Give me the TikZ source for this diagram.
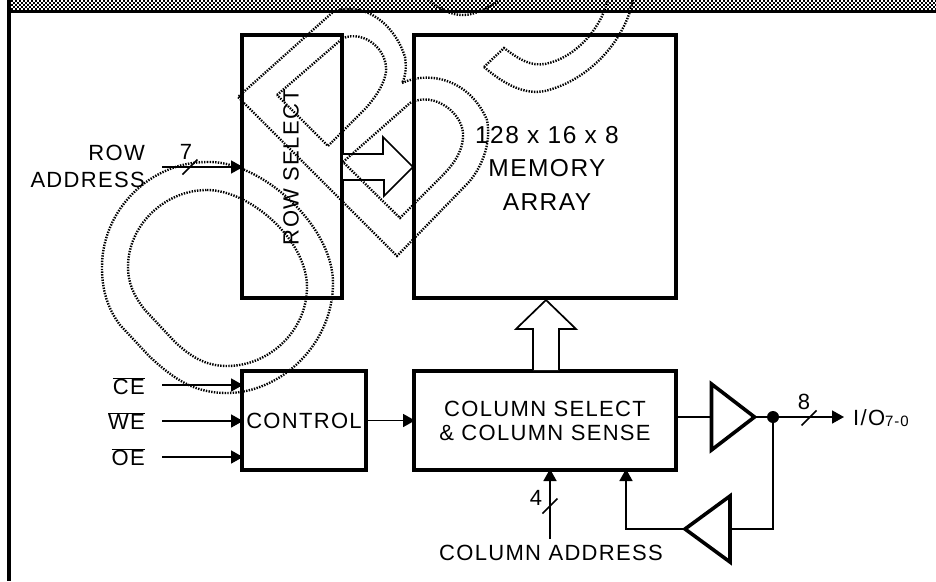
\documentclass[tikz,border=0pt]{standalone}
\usepackage{fontspec}
\usepackage{tikz}
\usetikzlibrary{arrows.meta,shapes.geometric}
\setmainfont[LetterSpace=6]{Liberation Sans}
\newcommand{\slashmark}[2]{\draw[thick line] (#1-7.5,#2+7.5) -- (#1+7.5,#2-7.5);}
\newcommand{\bandrow}[2]{\draw[line width=2pt, dash pattern=on 2pt off 2pt, dash phase=#2] (11,#1) -- (936,#1);}
\tikzset{
  thick line/.style={line width=1.7pt},
  wire/.style={thick line, -{Triangle[length=12pt,width=13pt]}, shorten >=-1pt},
  block/.style={draw, line width=3.6pt, inner sep=0pt, outer sep=0pt, align=center},
  bigarrow/.style={draw, line width=1.7pt, fill=white, line join=miter},
  buffer/.style={draw, line width=3.6pt, isosceles triangle, isosceles triangle stretches, inner sep=0pt, outer sep=0pt, anchor=lower side},
  wmline/.style={draw=black, line width=2.4pt, dash pattern=on 1.4pt off 1.3pt},
  signal/.style={anchor=east, inner sep=0pt, font=\fontsize{22}{24}\selectfont},
  lbl/.style={inner sep=0pt, font=\fontsize{22}{24}\selectfont}
}
\begin{document}
\begin{tikzpicture}[x=1pt,y=-1pt]
  \useasboundingbox (0,0) rectangle (936,581);
  % frame and band along the top
  \bandrow{1}{0pt}
  \bandrow{3}{2pt}
  \bandrow{5}{0pt}
  \bandrow{7}{2pt}
  \bandrow{9}{0pt}
  \draw[line width=3.6pt] (9,0) -- (9,581);
  \draw[line width=3.6pt] (9,11.5) -- (936,11.5);
  % blocks
  \node[block, minimum width=100pt, minimum height=263pt] (rowsel) at (292,166.5) {};
  \node[block, minimum width=262pt, minimum height=263pt] (memory) at (545,166.5) {};
  \node[block, minimum width=124pt, minimum height=99pt, font=\fontsize{22}{24}\selectfont] (control) at (304,420.5) {CONTROL};
  \node[block, minimum width=262pt, minimum height=99pt, font=\fontsize{22}{25}\selectfont] (colsel) at (545,420.5) {COLUMN SELECT\\[-1pt]\& COLUMN SENSE};
  \node[lbl, rotate=90] (rowlbl) at (291,167) {ROW SELECT};
  \node[inner sep=0pt, font=\fontsize{24.5}{33.5}\selectfont, align=center] (memlbl) at (547,168) {128 x 16 x 8\\MEMORY\\ARRAY};
  % wide arrows
  \draw[bigarrow] (343,154) -- (383,154) -- (383,137) -- (413,167) -- (384,196) -- (384,180) -- (343,180);
  \draw[bigarrow] (533,370) -- (533,329) -- (516,329) -- (546,300) -- (576,329) -- (559,329) -- (559,370);
  % inputs on the left
  \node[signal] (rowtxt) at (145,153) {ROW};
  \node[signal] (addrtxt) at (145,180) {ADDRESS};
  \node[lbl] (seven) at (186,152) {7};
  \coordinate (rowin) at (162,167);
  \draw[wire] (rowin) -- (rowin -| rowsel.west);
  \slashmark{190}{167}
  \node[signal] (ce) at (145,386) {$\overline{\mbox{CE}}$};
  \node[signal] (we) at (145,421) {$\overline{\mbox{WE}}$};
  \node[signal] (oe) at (145,457) {$\overline{\mbox{OE}}$};
  \coordinate (cein) at (162,385);
  \coordinate (wein) at (162,421);
  \coordinate (oein) at (162,457);
  \draw[wire] (cein) -- (cein -| control.west);
  \draw[wire] (wein) -- (wein -| control.west);
  \draw[wire] (oein) -- (oein -| control.west);
  \draw[wire] (control.east) -- (colsel.west);
  % buffers and data lines
  \node[buffer, minimum width=66pt, minimum height=43pt] (bufout) at (711.5,417) {};
  \node[buffer, shape border rotate=180, minimum width=66pt, minimum height=45pt] (bufin) at (730,529) {};
  \node[circle, fill=black, inner sep=0pt, minimum size=12pt] (junction) at (773,417) {};
  \node[lbl, anchor=west] (iolbl) at (853,418) {I/O\fontsize{15}{15}\selectfont\raisebox{-1pt}{7-0}};
  \coordinate (ioend) at (843,417);
  \coordinate (colin) at (677,417);
  \draw[thick line] (colin) -- (bufout.west);
  \draw[thick line] (bufout.east) -- (junction);
  \draw[wire] (junction) -- (ioend);
  \slashmark{809}{418}
  \node[lbl] (eight) at (804,402) {8};
  \draw[thick line] (junction) |- (bufin.east);
  \coordinate (fbup) at (626,470);
  \draw[wire] (bufin.west) -| (fbup);
  \node[lbl] (addrlbl) at (551,553) {COLUMN ADDRESS};
  \coordinate (addrup) at (550,539);
  \coordinate (addrtop) at (550,470);
  \draw[wire] (addrup) -- (addrtop);
  \slashmark{550}{506}
  \node[lbl] (four) at (536,498) {4};
  % overlaid mark
  \draw[wmline] (402,83) .. controls (430,70) and (470,80) .. (487,120) .. controls (492,145) and (480,170) .. (468,183) -- (397,256) -- (238,97) -- (333,12) .. controls (365,0) and (395,25) .. (405,57) .. controls (407,68) and (405,78) .. (402,83);
  \draw[wmline] (277,95) -- (343,38) .. controls (365,30) and (388,50) .. (386,72) .. controls (384,85) and (375,98) .. (365,109) -- (328,146) -- cycle;
  \draw[wmline] (343,162) -- (410,103) .. controls (435,90) and (465,115) .. (463,137) .. controls (462,155) and (450,168) .. (440,178) -- (400,218) -- cycle;
  \draw[wmline] (484,67) -- (504,48) .. controls (520,60) and (530,66) .. (545,64) .. controls (575,58) and (600,30) .. (608,0);
  \draw[wmline] (484,67) .. controls (505,85) and (525,95) .. (545,91) .. controls (590,80) and (625,40) .. (633,0);
  \draw[wmline] (428,0) .. controls (440,10) and (452,15) .. (463,15) .. controls (475,15) and (488,8) .. (500,0);
  \draw[wmline] (207,162) .. controls (260,160) and (333,225) .. (333,283) .. controls (333,345) and (280,393) .. (227,393) .. controls (195,393) and (175,380) .. (150,357) -- (120,325) .. controls (105,305) and (102,285) .. (102,267) .. controls (102,210) and (150,162) .. (207,162) -- cycle;
  \draw[wmline] (207,190) .. controls (250,190) and (307,240) .. (307,287) .. controls (307,330) and (270,366) .. (227,366) .. controls (205,366) and (190,356) .. (175,342) -- (145,310) .. controls (133,295) and (128,282) .. (128,267) .. controls (128,225) and (165,190) .. (207,190) -- cycle;
\end{tikzpicture}
\end{document}
